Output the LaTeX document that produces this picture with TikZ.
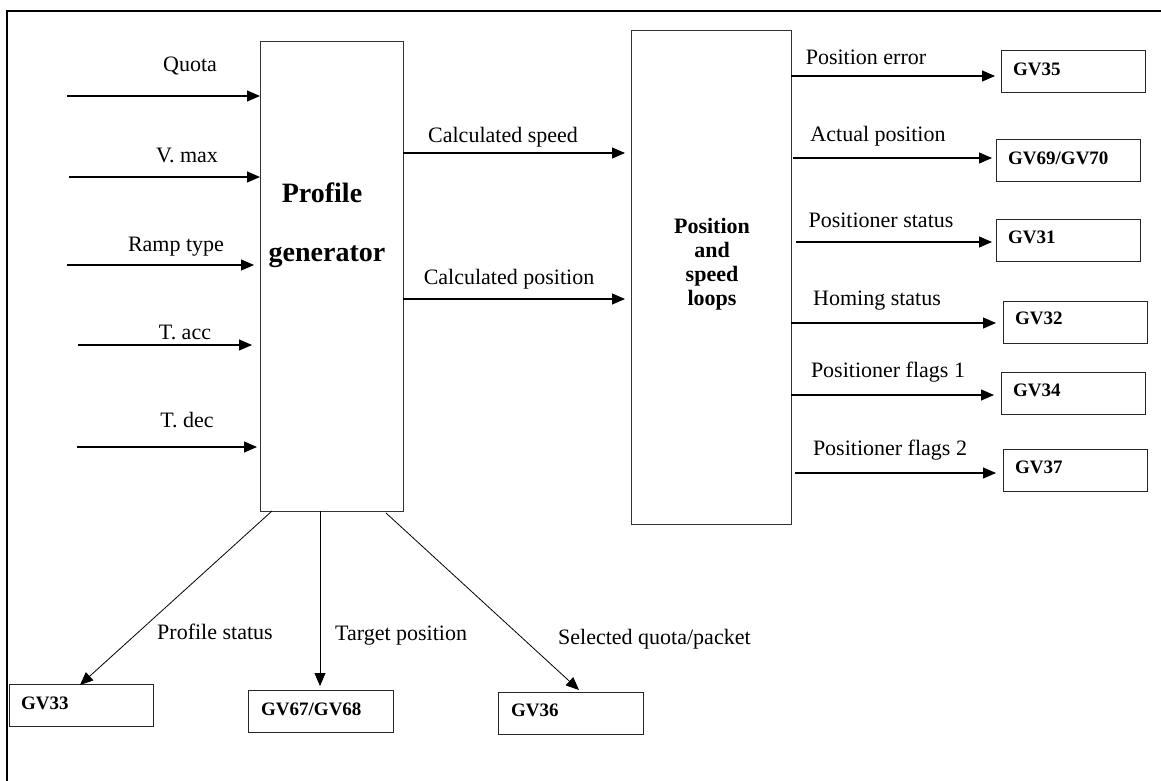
\documentclass[tikz,border=0pt]{standalone}
\usepackage{fontspec}
\setmainfont{Liberation Serif}
\usetikzlibrary{arrows.meta}
\begin{document}
\begin{tikzpicture}[x=1pt,y=-1pt,
  lbl/.style={font=\fontsize{22}{26}\selectfont, inner sep=0pt},
  bigbox/.style={draw=black!80, line width=1.2pt, anchor=north west, inner sep=0pt},
  gvbox/.style={draw=black!85, line width=1.2pt, anchor=north west, inner sep=0pt,
     minimum width=144pt, minimum height=42pt},
  gvtxt/.style={font=\bfseries\fontsize{19}{22}\selectfont, anchor=west, inner sep=0pt},
  arr/.style={line width=1.1pt, -{Triangle[length=13pt,width=11pt]}},
  darr/.style={line width=0.8pt, -{Triangle[length=13pt,width=11pt]}}
]
\useasboundingbox (0,0) rectangle (1161,781);
% frame
\draw[line width=2.5pt] (7,781) -- (7,11) -- (1161,11);

% main blocks
\node[bigbox, minimum width=143pt, minimum height=470pt] (pg) at (260,41) {};
\node[bigbox, minimum width=160pt, minimum height=494pt] (pl) at (631,30) {};
\node[font=\bfseries\fontsize{28}{32}\selectfont, inner sep=0pt] (pgt1) at (322,193) {Profile};
\node[font=\bfseries\fontsize{28}{32}\selectfont, inner sep=0pt] (pgt2) at (327,257) {generator};
\node[font=\bfseries\fontsize{22}{25}\selectfont, align=center, inner sep=0pt] (plt) at (712,264)
  {Position\\[-1pt]and\\[-1pt]speed\\[-1pt]loops};

% inputs
\coordinate (i1) at (67,96);
\coordinate (i2) at (69,177);
\coordinate (i3) at (67,265);
\coordinate (i4) at (78,345);
\coordinate (i5) at (77,447);
\draw[arr] (i1) -- (i1 -| pg.west);
\draw[arr] (i2) -- (i2 -| pg.west);
\draw[arr, shorten >=6pt] (i3) -- (i3 -| pg.west);
\draw[arr, shorten >=8pt] (i4) -- (i4 -| pg.west);
\draw[arr, shorten >=3pt] (i5) -- (i5 -| pg.west);
\node[lbl] (l1) at (190,66) {Quota};
\node[lbl] (l2) at (187,155) {V. max};
\node[lbl] (l3) at (176,247) {Ramp type};
\node[lbl] (l4) at (185,332) {T. acc};
\node[lbl] (l5) at (187,420) {T. dec};

% middle
\coordinate (m1) at (403,153);
\coordinate (m2) at (403,299);
\draw[arr, shorten >=6pt] (m1) -- (m1 -| pl.west);
\draw[arr, shorten >=6pt] (m2) -- (m2 -| pl.west);
\node[lbl] (lm1) at (503,137) {Calculated speed};
\node[lbl] (lm2) at (509,279) {Calculated position};

% right outputs
\node[gvbox] (g35) at (1001,50) {};
\node[gvbox] (g69) at (996,139) {};
\node[gvbox] (g31) at (996,219) {};
\node[gvbox] (g32) at (1003,301) {};
\node[gvbox] (g34) at (1001,372) {};
\node[gvbox] (g37) at (1003,449) {};
\node[gvtxt] (t35) at (1013,69) {GV35};
\node[gvtxt] (t69) at (1008,158) {GV69/GV70};
\node[gvtxt] (t31) at (1008,237) {GV31};
\node[gvtxt] (t32) at (1015,318) {GV32};
\node[gvtxt] (t34) at (1013,390) {GV34};
\node[gvtxt] (t37) at (1015,467) {GV37};

\coordinate (o1) at (791,76);
\coordinate (o2) at (793,158);
\coordinate (o3) at (796,242);
\coordinate (o4) at (791,323);
\coordinate (o5) at (791,395);
\coordinate (o6) at (795,473);
\draw[arr, shorten >=6pt] (o1) -- (o1 -| g35.west);
\draw[arr, shorten >=4pt] (o2) -- (o2 -| g69.west);
\draw[arr, shorten >=4pt] (o3) -- (o3 -| g31.west);
\draw[arr, shorten >=7pt] (o4) -- (o4 -| g32.west);
\draw[arr, shorten >=7pt] (o5) -- (o5 -| g34.west);
\draw[arr, shorten >=7pt] (o6) -- (o6 -| g37.west);
\node[lbl] (r1) at (866,57) {Position error};
\node[lbl] (r2) at (878,136) {Actual position};
\node[lbl] (r3) at (881,220) {Positioner status};
\node[lbl] (r4) at (877,301) {Homing status};
\node[lbl] (r5) at (888,372) {Positioner flags 1};
\node[lbl] (r6) at (890,450) {Positioner flags 2};

% bottom outputs
\node[gvbox, minimum width=144pt] (g33) at (9,684) {};
\node[gvbox, minimum width=145pt] (g67) at (248,690) {};
\node[gvbox, minimum width=145pt] (g36) at (498,692) {};
\node[gvtxt] (t33) at (21,703) {GV33};
\node[gvtxt] (t67) at (261,709) {GV67/GV68};
\node[gvtxt] (t36) at (511,710) {GV36};

\coordinate (b1) at (272,511);
\coordinate (b2) at (320,511);
\coordinate (b3) at (386,513);
\coordinate (e1) at (80,685);
\coordinate (e2) at (320,686);
\coordinate (e3) at (579,690);
\draw[darr] (b1) -- (e1);
\draw[darr] (b2) -- (e2);
\draw[darr] (b3) -- (e3);
\node[lbl, anchor=west] (bl1) at (157,632) {Profile status};
\node[lbl, anchor=west] (bl2) at (335,636) {Target position};
\node[lbl, anchor=west] (bl3) at (558,639) {Selected quota/packet};
\end{tikzpicture}
\end{document}
